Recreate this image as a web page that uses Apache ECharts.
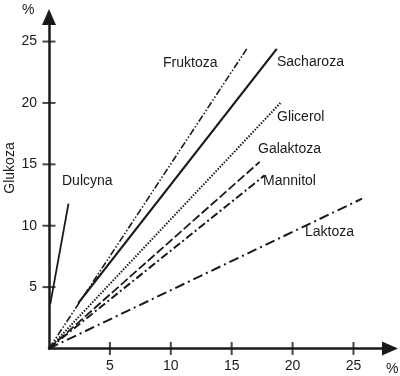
<!DOCTYPE html>
<html>
<head>
<meta charset="utf-8">
<title>Glukoza</title>
<script src="https://cdn.jsdelivr.net/npm/echarts@6/dist/echarts.min.js"></script>
<style>
  html, body { margin: 0; padding: 0; background: #fff; }
  #chart { width: 400px; height: 376px; }
</style>
</head>
<body>
<div id="chart"></div>
<script>
// tick values on both axes
var tickValues = [5, 10, 15, 20, 25];

// each line: start and end point (x %, y Glukoza %)
var dulcyna   = [[0.1, 3.6], [1.6, 11.8]];
var sacharoza = [[2.4, 3.7], [18.7, 24.4]];
var fruktoza  = [[0, 0], [16.3, 24.5]];
var glicerol  = [[0, 0], [19.0, 20.0]];
var galaktoza = [[0, 0], [17.3, 15.2]];
var mannitol  = [[0, 0], [17.7, 14.1]];
var laktoza   = [[0, 0], [25.7, 12.2]];

var chart = echarts.init(document.getElementById('chart'));
var font = 'Liberation Sans, Arial, sans-serif';
var ink = '#1a1a1a';

function lineSeries(name, data, type, width) {
  return {
    name: name,
    type: 'line',
    data: data,
    symbol: 'none',
    silent: true,
    lineStyle: { color: ink, width: width || 1.8, type: type }
  };
}

function label(text, left, top) {
  return {
    type: 'text', left: left, top: top,
    style: { text: text, fill: ink, font: '14px ' + font }
  };
}

var option = {
  animation: false,
  grid: { left: 49, right: 10, top: 17, bottom: 27.5 },
  xAxis: {
    type: 'value', min: 0, max: 28, interval: 5,
    splitLine: { show: false },
    axisLine: { lineStyle: { color: ink, width: 2.5 }, symbol: ['none', 'triangle'], symbolSize: [14, 16] },
    axisTick: { show: false },
    axisLabel: { customValues: tickValues, color: ink, fontSize: 14, fontFamily: font, margin: 11 }
  },
  yAxis: {
    type: 'value', min: 0, max: 27, interval: 5,
    splitLine: { show: false },
    axisLine: { lineStyle: { color: ink, width: 2.5 }, symbol: ['none', 'triangle'], symbolSize: [14, 16] },
    axisTick: { show: false },
    axisLabel: { customValues: tickValues, color: ink, fontSize: 14, fontFamily: font, margin: 12 }
  },
  series: [
    lineSeries('Dulcyna', dulcyna, 'solid', 1.8),
    lineSeries('Sacharoza', sacharoza, 'solid', 2.2),
    lineSeries('Fruktoza', fruktoza, [7, 2, 1.5, 2, 1.5, 2], 1.6),
    lineSeries('Glicerol', glicerol, [1.5, 1.5], 2),
    lineSeries('Galaktoza', galaktoza, [9, 3], 1.8),
    lineSeries('Mannitol', mannitol, [8, 3, 2, 3], 2),
    lineSeries('Laktoza', laktoza, [10, 4, 2, 4], 2),
    {
      type: 'scatter', silent: true, symbol: 'rect', symbolSize: [2, 13],
      itemStyle: { color: ink },
      data: tickValues.map(function (v) { return [v, 0]; })
    },
    {
      type: 'scatter', silent: true, symbol: 'rect', symbolSize: [13, 2],
      itemStyle: { color: ink },
      data: tickValues.map(function (v) { return [0, v]; })
    }
  ],
  graphic: [
    label('Dulcyna', 62, 174),
    label('Fruktoza', 163, 56),
    label('Sacharoza', 277, 55),
    label('Glicerol', 277, 110),
    label('Galaktoza', 258, 142),
    label('Mannitol', 263, 174),
    label('Laktoza', 305, 225),
    label('%', 22, 3),
    label('%', 386, 362),
    {
      type: 'text', x: 10, y: 168, rotation: Math.PI / 2,
      style: { text: 'Glukoza', fill: ink, font: '14px ' + font, align: 'center', verticalAlign: 'middle' }
    }
  ]
};
chart.setOption(option);
</script>
</body>
</html>
